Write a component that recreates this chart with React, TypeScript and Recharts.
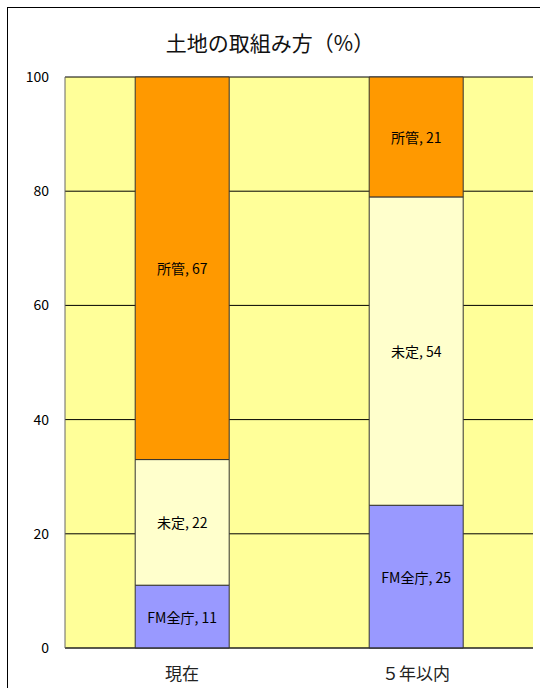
import React from "react"
import { BarChart, Bar, XAxis, YAxis, CartesianGrid, LabelList } from "recharts"

const categories = ["現在", "５年以内"]
const fmZencho = [11, 25]
const mitei = [22, 54]
const shokan = [67, 21]
const yTicks = [0, 20, 40, 60, 80, 100]

const data = categories.map((name, i) => ({
  name,
  fm: fmZencho[i],
  mitei: mitei[i],
  shokan: shokan[i],
}))

const FONT = '"Noto Sans CJK JP", "Noto Sans", sans-serif'

const seriesLabel = (label: string) => (props: any) => {
  const { x, y, width, height, value } = props
  return (
    <text
      x={x + width / 2}
      y={y + height / 2}
      textAnchor="middle"
      dominantBaseline="central"
      fontSize={14}
      fontFamily={FONT}
      fill="#000"
    >
      {`${label}, ${value}`}
    </text>
  )
}

export default function App() {
  return (
    <div style={{ position: "absolute", left: 0, top: 0, width: 540, height: 688, background: "#fff", fontFamily: FONT, overflow: "hidden" }}>
      <div
        style={{
          position: "absolute",
          top: 27,
          left: 0,
          width: 540,
          textAlign: "center",
          fontSize: 21,
          color: "#111",
        }}
      >
        土地の取組み方（%）
      </div>
      <div style={{ position: "absolute", left: 0, top: 0 }}>
        <BarChart
          width={540}
          height={688}
          data={data}
          margin={{ top: 77, right: 7, bottom: 0, left: 0 }}
          barCategoryGap="30%"
        >
          <CartesianGrid vertical={false} stroke="#000" fill="#FFFF99" />
          <XAxis
            dataKey="name"
            axisLine={{ stroke: "#333" }}
            tickLine={false}
            height={40}
            tick={{ fontSize: 17, fill: "#222", fontFamily: FONT }}
            tickMargin={14}
          />
          <YAxis
            domain={[0, 100]}
            ticks={yTicks}
            width={65}
            axisLine={{ stroke: "#666" }}
            tickLine={false}
            tick={{ fontSize: 14, fill: "#000", fontFamily: FONT }}
            tickMargin={10}
          />
          <YAxis
            yAxisId="frame"
            orientation="right"
            domain={[0, 100]}
            width={0}
            tick={false}
            tickLine={false}
            axisLine={{ stroke: "#888" }}
          />
          <Bar dataKey="fm" stackId="a" fill="#9999FF" stroke="#333" isAnimationActive={false}>
            <LabelList dataKey="fm" content={seriesLabel("FM全庁")} />
          </Bar>
          <Bar dataKey="mitei" stackId="a" fill="#FFFFCC" stroke="#333" isAnimationActive={false}>
            <LabelList dataKey="mitei" content={seriesLabel("未定")} />
          </Bar>
          <Bar dataKey="shokan" stackId="a" fill="#FF9900" stroke="#333" isAnimationActive={false}>
            <LabelList dataKey="shokan" content={seriesLabel("所管")} />
          </Bar>
        </BarChart>
      </div>
      {/* outer frame, open to the right and bottom */}
      <div
        style={{
          position: "absolute",
          left: 7,
          top: 7,
          width: 560,
          height: 700,
          borderLeft: "1px solid #000",
          borderTop: "1px solid #000",
          pointerEvents: "none",
        }}
      />
    </div>
  )
}
